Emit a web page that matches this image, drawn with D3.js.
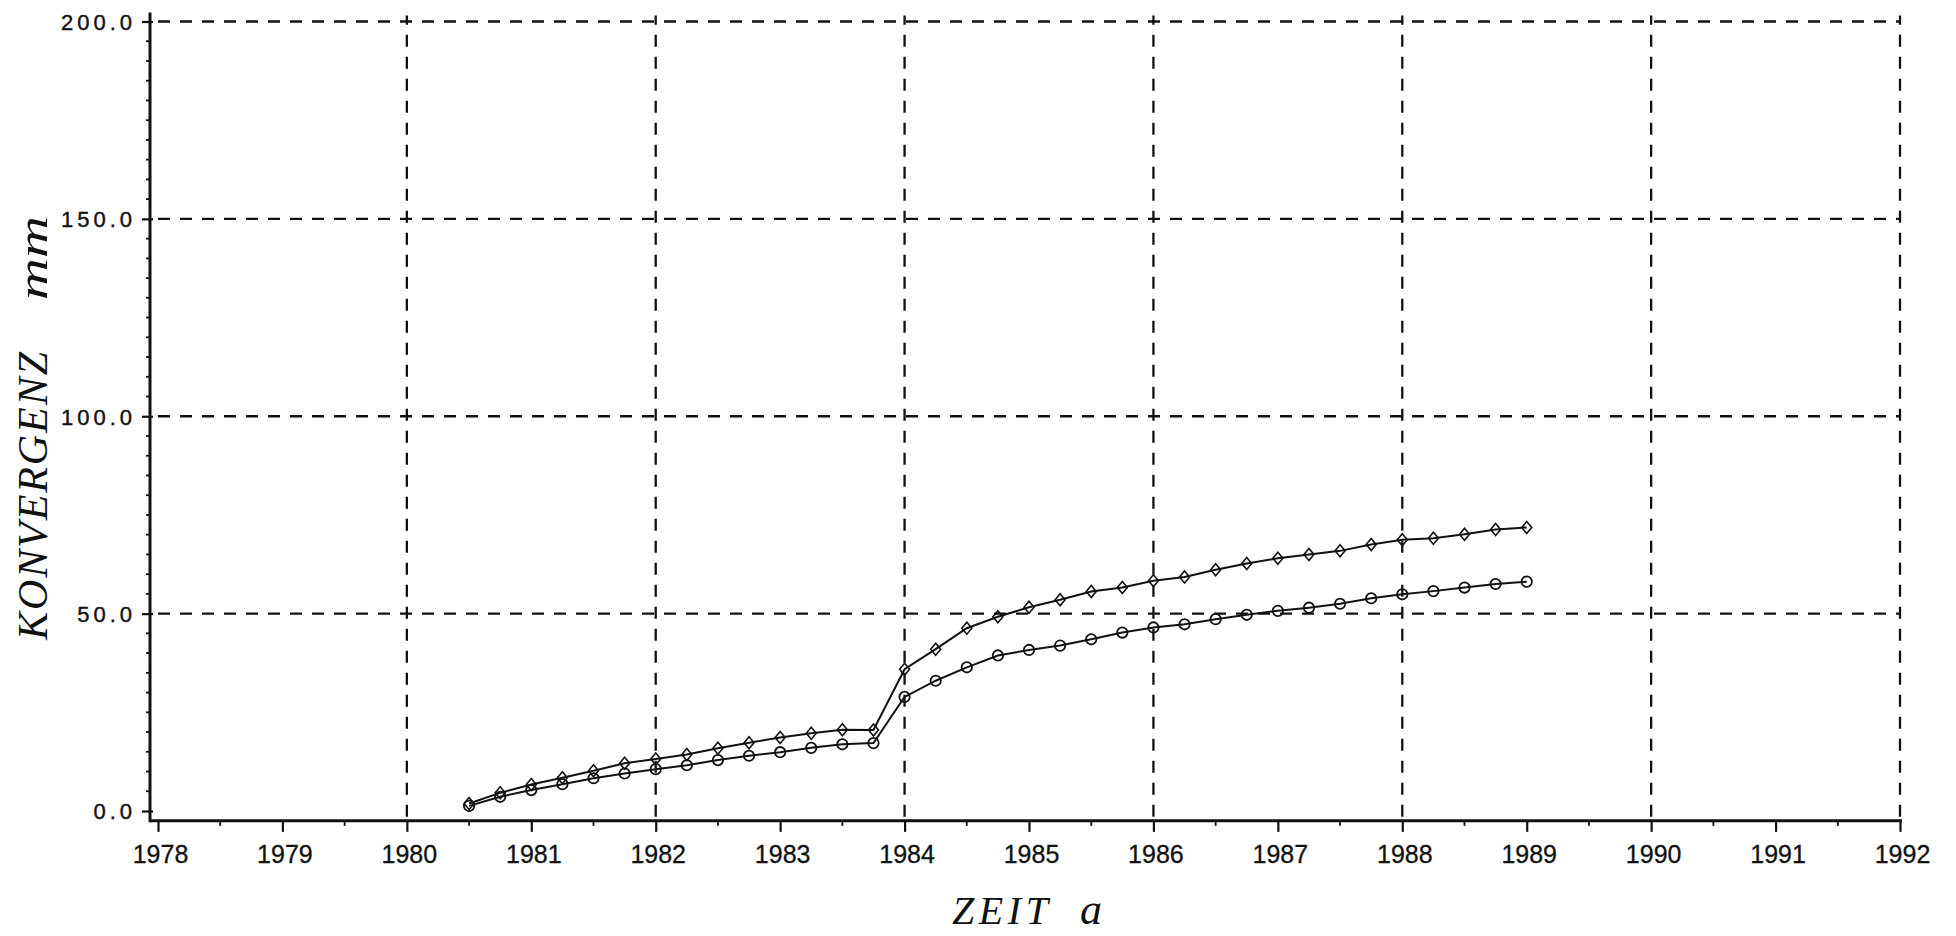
<!DOCTYPE html>
<html>
<head>
<meta charset="utf-8">
<script src="https://cdn.jsdelivr.net/npm/d3@7"></script>
<style>
  html, body { margin: 0; padding: 0; background: #fff; }
  svg { display: block; }
</style>
</head>
<body>
<svg id="chart" width="1956" height="936"></svg>
<script>
// ---- data ----
const times = [1980.5, 1980.75, 1981.0, 1981.25, 1981.5, 1981.75, 1982.0, 1982.25, 1982.5, 1982.75,
               1983.0, 1983.25, 1983.5, 1983.75, 1984.0, 1984.25, 1984.5, 1984.75, 1985.0, 1985.25,
               1985.5, 1985.75, 1986.0, 1986.25, 1986.5, 1986.75, 1987.0, 1987.25, 1987.5, 1987.75,
               1988.0, 1988.25, 1988.5, 1988.75, 1989.0];
const seriesDiamond = [1.9, 4.6, 6.7, 8.4, 10.2, 12.1, 13.2, 14.3, 15.9, 17.3,
                       18.6, 19.7, 20.6, 20.5, 35.9, 41.0, 46.3, 49.2, 51.6, 53.5,
                       55.6, 56.6, 58.3, 59.3, 61.1, 62.7, 64.0, 65.0, 65.9, 67.5,
                       68.7, 69.1, 70.1, 71.3, 71.8];
const seriesCircle = [1.3, 3.6, 5.3, 6.8, 8.3, 9.5, 10.6, 11.6, 12.9, 14.0,
                      14.9, 16.0, 16.9, 17.2, 28.9, 33.0, 36.4, 39.4, 40.8, 41.9,
                      43.5, 45.2, 46.5, 47.3, 48.6, 49.7, 50.7, 51.5, 52.5, 53.9,
                      54.9, 55.7, 56.6, 57.5, 58.1];
const xTickYears = [1978, 1979, 1980, 1981, 1982, 1983, 1984, 1985, 1986, 1987, 1988, 1989, 1990, 1991, 1992];
const xGridYears = [1980, 1982, 1984, 1986, 1988, 1990, 1992];
const yTickValues = [0, 50, 100, 150, 200];
const yGridValues = [50, 100, 150, 200];
const yTitle = "KONVERGENZ";
const yUnit = "mm";
const xTitle = "ZEIT";
const xUnit = "a";

// ---- layout ----
const svg = d3.select("#chart");
const x = d3.scaleLinear().domain([1978, 1992]).range([158, 1900]);
const y = d3.scaleLinear().domain([0, 200]).range([811, 21.5]);
const axisX = 150;          // position of vertical axis line
const axisY = y(-2.5);      // position of horizontal axis line
const ink = "#111";

// gridlines
const grid = svg.append("g").attr("stroke", ink).attr("stroke-width", 2.3)
  .attr("stroke-dasharray", "12,10").attr("fill", "none");
grid.selectAll("line.h").data(yGridValues).join("line").attr("class", "h")
  .attr("x1", axisX + 8).attr("x2", x(1992))
  .attr("y1", d => y(d)).attr("y2", d => y(d));
grid.selectAll("line.v").data(xGridYears).join("line").attr("class", "v")
  .attr("x1", d => x(d)).attr("x2", d => x(d))
  .attr("y1", axisY - 4).attr("y2", y(200) - 6);

// Y axis
const yAxis = d3.axisLeft(y).tickValues(yTickValues).tickSize(8).tickPadding(10)
  .tickFormat(d3.format(".1f"));
const gy = svg.append("g").attr("transform", `translate(${axisX},0)`).call(yAxis);
gy.select(".domain").remove();
gy.selectAll(".tick line").attr("stroke", ink).attr("stroke-width", 2.2).attr("x2", 3).attr("x1", -8);
gy.selectAll(".tick text").attr("fill", ink)
  .style("font-family", "'Liberation Sans', Arial, sans-serif")
  .style("font-size", "22px").style("letter-spacing", "4px")
  .attr("stroke", ink).attr("stroke-width", 0.4)
  .attr("x", -18 + 4).attr("dy", "0.36em");
// y minor ticks
const yMinor = d3.range(0, 201, 5).filter(v => v % 50 !== 0);
svg.append("g").selectAll("line").data(yMinor).join("line")
  .attr("x1", axisX - 4).attr("x2", axisX)
  .attr("y1", d => y(d)).attr("y2", d => y(d))
  .attr("stroke", ink).attr("stroke-width", 1.8);
svg.append("line").attr("x1", axisX).attr("x2", axisX)
  .attr("y1", y(200) - 9).attr("y2", axisY + 1.5)
  .attr("stroke", ink).attr("stroke-width", 3);

// X axis
const xAxis = d3.axisBottom(x).tickValues(xTickYears).tickSize(11).tickPadding(13)
  .tickFormat(d3.format("d"));
const gx = svg.append("g").attr("transform", `translate(0,${axisY})`).call(xAxis);
gx.select(".domain").remove();
gx.selectAll(".tick line").attr("stroke", ink).attr("stroke-width", 2.2);
gx.selectAll(".tick text").attr("fill", ink)
  .style("font-family", "'Liberation Sans', Arial, sans-serif")
  .style("font-size", "25px").attr("dx", "2")
  .attr("stroke", ink).attr("stroke-width", 0.3);
const xMinor = xTickYears.slice(0, -1).map(v => v + 0.5);
svg.append("g").selectAll("line").data(xMinor).join("line")
  .attr("x1", d => x(d)).attr("x2", d => x(d))
  .attr("y1", axisY).attr("y2", axisY + 5)
  .attr("stroke", ink).attr("stroke-width", 1.8);
svg.append("line").attr("x1", axisX).attr("x2", x(1992) + 2)
  .attr("y1", axisY).attr("y2", axisY)
  .attr("stroke", ink).attr("stroke-width", 3);

// series
const pts = (vals) => times.map((t, i) => [t, vals[i]]);
const line = d3.line().x(d => x(d[0])).y(d => y(d[1]));
[seriesDiamond, seriesCircle].forEach(vals => {
  svg.append("path").datum(pts(vals)).attr("d", line)
    .attr("fill", "none").attr("stroke", ink).attr("stroke-width", 2);
});
svg.append("g").selectAll("path").data(pts(seriesDiamond)).join("path")
  .attr("d", d => `M${x(d[0])},${y(d[1]) - 6}L${x(d[0]) + 5},${y(d[1])}L${x(d[0])},${y(d[1]) + 6}L${x(d[0]) - 5},${y(d[1])}Z`)
  .attr("fill", "none").attr("stroke", ink).attr("stroke-width", 1.6);
svg.append("g").selectAll("circle").data(pts(seriesCircle)).join("circle")
  .attr("cx", d => x(d[0])).attr("cy", d => y(d[1])).attr("r", 5.2)
  .attr("fill", "none").attr("stroke", ink).attr("stroke-width", 1.8);

// axis titles
const serif = "'Liberation Serif', 'DejaVu Serif', serif";
svg.append("text").attr("transform", "translate(47,640) rotate(-90)")
  .attr("textLength", 288).attr("lengthAdjust", "spacing")
  .style("font-family", serif).style("font-style", "italic").style("font-size", "42px")
  .attr("fill", ink).text(yTitle);
svg.append("text").attr("transform", "translate(47,300) rotate(-90)")
  .attr("textLength", 84).attr("lengthAdjust", "spacingAndGlyphs")
  .style("font-family", serif).style("font-style", "italic").style("font-size", "42px")
  .attr("fill", ink).text(yUnit);
svg.append("text").attr("x", 952).attr("y", 924)
  .attr("textLength", 96).attr("lengthAdjust", "spacing")
  .style("font-family", serif).style("font-style", "italic").style("font-size", "40px")
  .attr("fill", ink).text(xTitle);
svg.append("text").attr("x", 1080).attr("y", 924)
  .style("font-family", serif).style("font-style", "italic").style("font-size", "44px")
  .attr("fill", ink).text(xUnit);
</script>
</body>
</html>
